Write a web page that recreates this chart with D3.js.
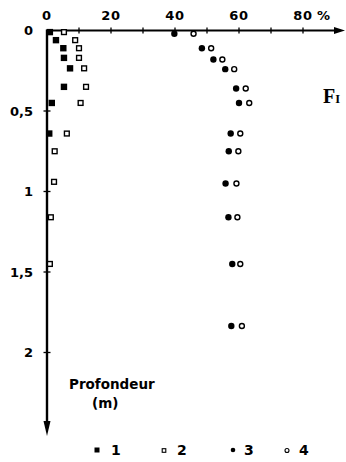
<!DOCTYPE html>
<html><head><meta charset="utf-8">
<script src="https://cdn.jsdelivr.net/npm/d3@7"></script>
<style>body{margin:0;background:#fff}svg{display:block}text{font-family:"DejaVu Sans",Arial,sans-serif;font-weight:bold;fill:#000}</style>
</head><body>
<script>
// ---- data ----
const xTicks = [0,10,20,30,40,50,60,70,80];
const xLabels = [0,20,40,60,80];
const yTicks = [0,0.5,1,1.5,2];
const yLabels = ["0","0,5","1","1,5","2"];
const legendLabels = ["1","2","3","4"];
const depth12 = [0.01,0.06,0.11,0.17,0.235,0.35,0.45,0.64,0.75,0.94,1.16,1.45];
const serie1 = [0.9,2.8,5.1,5.3,7.2,5.3,1.5,0.7];
const serie2 = [5.3,8.8,10,10,11.6,12.2,10.5,6.2,2.4,2.2,1.2,0.9];
const depth34 = [0.02,0.11,0.18,0.24,0.36,0.45,0.64,0.75,0.95,1.16,1.45,1.835];
const serie3 = [39.8,48.4,52.0,55.7,59.1,60.0,57.4,56.8,55.8,56.7,57.9,57.6];
const serie4 = [45.8,51.3,54.8,58.5,62.1,63.2,60.4,59.8,59.2,59.5,60.4,60.9];

const W=346,H=462;
const svg=d3.select("body").append("svg").attr("width",W).attr("height",H);
const x=d3.scaleLinear().domain([0,80]).range([47,303]);
const y=d3.scaleLinear().domain([0,2]).range([30.5,352.5]);
const y0=y(0), x0=x(0);

// x axis
svg.append("line").attr("x1",x0).attr("x2",334).attr("y1",y0).attr("y2",y0).attr("stroke","#000").attr("stroke-width",2);
svg.append("path").attr("d",`M334,${y0-3.5}L345,${y0}L334,${y0+3.5}Z`).attr("fill","#000");
svg.selectAll(".xt").data(xTicks.slice(1)).enter().append("line")
  .attr("x1",d=>x(d)).attr("x2",d=>x(d)).attr("y1",y0-3).attr("y2",y0+3).attr("stroke","#000").attr("stroke-width",1.3);
svg.selectAll(".xl").data(xLabels).enter().append("text")
  .attr("x",d=>x(d)).attr("y",20).attr("text-anchor","middle").attr("font-size",13).attr("letter-spacing",0.8)
  .text(d=>d);
svg.append("text").attr("x",317).attr("y",20).attr("font-size",13).text("%");

// y axis
svg.append("line").attr("x1",x0).attr("x2",x0).attr("y1",y0-1).attr("y2",422).attr("stroke","#000").attr("stroke-width",2.4);
svg.append("path").attr("d",`M${x0-3.5},421L${x0},436L${x0+3.5},421Z`).attr("fill","#000");
svg.selectAll(".yt").data(yTicks.slice(1)).enter().append("line")
  .attr("x1",x0-3.5).attr("x2",x0+3.5).attr("y1",d=>y(d)).attr("y2",d=>y(d)).attr("stroke","#000").attr("stroke-width",1.3);
svg.selectAll(".yl").data(yTicks).enter().append("text")
  .attr("x",33).attr("y",d=>y(d)+4.5).attr("text-anchor","end").attr("font-size",13)
  .text((d,i)=>yLabels[i]);

svg.append("text").attr("x",69).attr("y",389).attr("font-size",13.5).text("Profondeur");
svg.append("text").attr("x",92).attr("y",408).attr("font-size",13.5).text("(m)");

// Fig label
const ft=svg.append("text").attr("x",323).attr("y",103).style("font-family","'Liberation Serif','Times New Roman',serif").attr("font-size",20);
ft.append("tspan").text("F");
ft.append("tspan").attr("font-size",12.5).text("I");

// points
const g=svg.append("g");
g.selectAll(".s1").data(serie1).enter().append("rect")
  .attr("x",(d,i)=>x(d)-3.2).attr("y",(d,i)=>y(depth12[i])-3.2).attr("width",6.4).attr("height",6.4).attr("fill","#000");
g.selectAll(".s2").data(serie2).enter().append("rect")
  .attr("x",(d,i)=>x(d)-2.4).attr("y",(d,i)=>y(depth12[i])-2.4).attr("width",4.8).attr("height",4.8).attr("fill","#fff").attr("stroke","#000").attr("stroke-width",1.4);
g.selectAll(".s3").data(serie3).enter().append("circle")
  .attr("cx",d=>x(d)).attr("cy",(d,i)=>y(depth34[i])).attr("r",3.2).attr("fill","#000");
g.selectAll(".s4").data(serie4).enter().append("circle")
  .attr("cx",d=>x(d)).attr("cy",(d,i)=>y(depth34[i])).attr("r",2.5).attr("fill","#fff").attr("stroke","#000").attr("stroke-width",1.4);

// legend
const ly=450;
const lx=[97,164,233,287];
svg.append("rect").attr("x",lx[0]-2.5).attr("y",ly-2.5).attr("width",5).attr("height",5).attr("fill","#000");
svg.append("rect").attr("x",lx[1]-1.8).attr("y",ly-1.3).attr("width",3.6).attr("height",3.6).attr("fill","#fff").attr("stroke","#000").attr("stroke-width",1.1);
svg.append("circle").attr("cx",lx[2]).attr("cy",ly).attr("r",2.3).attr("fill","#000");
svg.append("circle").attr("cx",lx[3]).attr("cy",ly+0.5).attr("r",2).attr("fill","#fff").attr("stroke","#000").attr("stroke-width",1.1);
svg.selectAll(".lg").data(legendLabels).enter().append("text")
  .attr("x",(d,i)=>lx[i]+[14,13,11,12][i]).attr("y",ly+5).attr("font-size",14).text(d=>d);
</script>
</body></html>
